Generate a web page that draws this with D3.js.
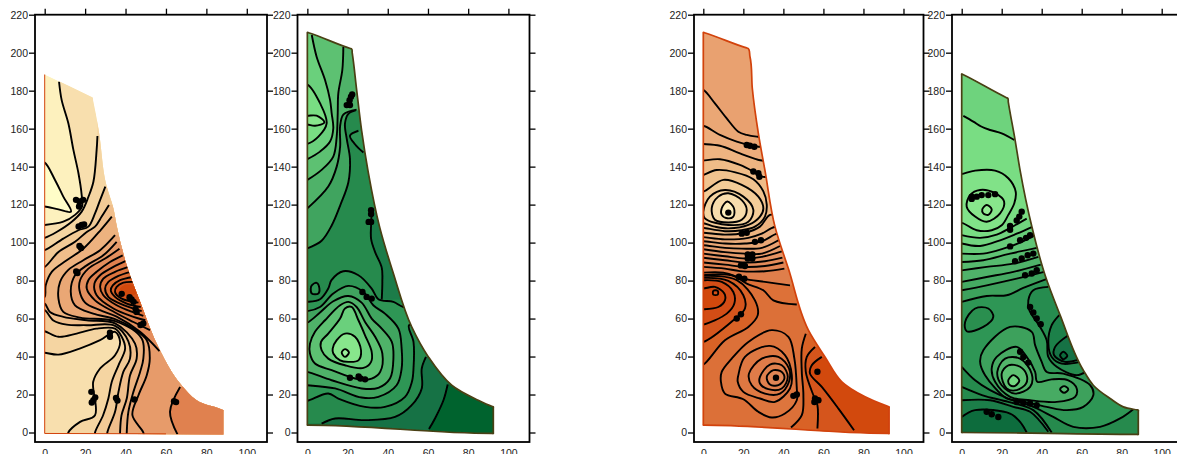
<!DOCTYPE html>
<html>
<head>
<meta charset="utf-8">
<script src="https://cdn.jsdelivr.net/npm/d3@7"></script>
<style>
  body { margin: 0; background: #fff; }
  svg { display: block; }
  .tick text { font-family: "Liberation Sans", Arial, sans-serif; font-size: 10.5px; fill: #222; }
  .tick line { stroke: #000; stroke-width: 1.3px; }
  .domain { display: none; }
</style>
</head>
<body>
<svg id="chart" width="1177" height="454">
  <defs><filter id="soft" x="-5%" y="-5%" width="110%" height="110%"><feGaussianBlur stdDeviation="0.35"/></filter></defs>
</svg>
<script>
var xTicks = [0, 20, 40, 60, 80, 100];
var yTicks = [0, 20, 40, 60, 80, 100, 120, 140, 160, 180, 200, 220];

var orangeLevels = [0, 1, 2, 4, 6, 8, 10, 13, 16];
var orangeColors = ['#FFFDC8', '#FDF1BE', '#F8DFAE', '#F2CA96', '#EDB27F', '#E79B6B', '#E0814F', '#DC6E35', '#D2490F'];
var greenLevels = [0, 1, 2, 3, 4, 5, 6, 7, 8, 9, 10];
var greenColors = ['#00642F', '#127244', '#258A4D', '#2F9655', '#3FA45E', '#4FB269', '#5DC172', '#6BD07C', '#79DD83', '#88E68C', '#9AEF99'];

// outlines of the four sections, in chart units (close pairs keep the corners sharp)
var p1Outline = [[0,188.5],[0.6,188.2],[23,176.8],[23.6,176.5],[24,174.5],[26.6,160],[30.7,129.5],[34,118],[35.6,109],[40.6,87.9],[47.2,68.8],[57,43.3],[67,25.8],[75.2,17],[88,12],[88.4,11.8],[88.4,11],[88.4,-0.5],[88.4,-1],[87.5,-1],[0.5,-0.5],[0,-0.5],[0,0.5],[0,188]];
var p2Outline = [[0,210.7],[0.6,210.5],[21.4,202.2],[22,202],[22.3,200],[24.5,180.6],[27,159],[30.3,137],[36,108],[42.8,83.7],[51.9,55.6],[60.2,39.8],[71.8,24.9],[85,17],[92,13.7],[92.5,13.5],[92.5,12.8],[92.5,0],[92.5,-0.5],[91.8,-0.5],[0.5,3.9],[0,3.9],[0,4.5],[0,210]];
var p3Outline = [[0,210.7],[0.6,210.5],[21.6,202.5],[22.2,202.3],[23.3,198],[24.5,181],[27.5,157.5],[30.8,138],[35.8,108.4],[42.5,86.3],[52.5,53.9],[60.8,39.8],[69.2,26.7],[80.8,18.8],[92.3,13.7],[92.8,13.5],[92.8,12.8],[92.8,0],[92.8,-0.5],[92,-0.5],[0.5,3.9],[0,3.9],[0,4.5],[0,210]];
var p4Outline = [[0,188.8],[0.6,188.5],[22.4,176.3],[23,176],[23.3,174],[26.7,154],[29.2,138],[35,108.7],[41.7,82.8],[49.2,61.8],[60.8,32.8],[65.8,24.9],[74.2,17.9],[80.8,13.5],[87.8,11.9],[88.3,11.8],[88.3,11],[88.3,-0.5],[88.3,-1],[87.5,-1],[0.5,0],[0,0],[0,0.5],[0,188]];

// only the left and bottom edge of the first section carry a line
var p1Edge = [[0,188.5],[0,-0.5],[60,-0.7]];

// each contour: [level, line points, closing points for the fill (none = closed ring)]
// they are painted in this order, the closing points run outside the section
var p1Contours = [
  [0, [[0,142.1],[5.1,133],[9.2,124.2],[13,116.3],[6.8,117.5],[0,119],[-2,119],[-2,142]]],
  [2, [[7.1,184.7],[8.4,175],[11.7,162.8],[14.2,148.8],[16.7,136.5],[18.3,125],[18.5,119],[15,114.6],[9.2,111],[0,109.3]], [[-5,109],[-5,-10],[100,-10],[100,200],[7,200]]],
  [3, [[26.1,156.1],[25.7,148.8],[24.1,132],[21.6,124],[18.3,116.3],[13.4,111],[5.9,105.6],[0,102.5],[-2,102],[-2,42],[0,42],[6.8,41],[17.3,44.2],[27.4,48.6],[34.8,53],[37.3,47.8],[34.8,40.7],[27.4,33.7],[24,26.7],[24.9,9.1],[17.5,5.6],[11.7,0],[11.7,-3]], [[11.7,-10],[100,-10],[100,170],[26,170]]],
  [4, [[30,129.5],[27.4,122.4],[24.9,115.4],[21.6,108.4],[16.7,106.5],[9.2,102.1],[0,96],[-2,96],[-2,53.3],[0,53.3],[6.8,50.4],[15.8,52.1],[25.7,54.7],[34.8,54.7],[38.1,50.4],[39.8,44.2],[36.5,35.4],[33.2,26.7],[31.5,17.9],[28.9,9.1],[24.9,0],[24.9,-3]], [[24.9,-10],[100,-10],[100,130]]],
  [5, [[31.8,119.8],[28.2,113.7],[24.9,108.4],[20.8,105.6],[15,100.4],[6.8,95],[0,87.2],[-2,87],[-2,64],[0,64.4],[4.3,59],[10.9,56.8],[20.8,56.5],[34.8,56.2],[41.4,48],[42.2,38.9],[38.9,31.9],[36.5,21.4],[34.8,10.9],[31,0],[31,-3]], [[31,-10],[100,-10],[100,120]]],
  [6, [[33.2,113.7],[28,107],[19.1,96.8],[10.9,90.7],[3.5,84.6],[0.5,77.5],[0,71.4],[-2,71],[-2,68],[0,67.9],[2.6,63.5],[9.2,60.9],[20.8,59.1],[34.8,57.5],[44.7,46.8],[45.5,38.9],[42.2,30],[40.6,17.9],[38,9],[37.3,0],[37.3,-3]], [[37.3,-10],[100,-10],[100,114]]],
  [7, [[34.8,103.9],[27.4,96],[19.1,90.7],[11.7,85.6],[7.6,79.3],[6.8,70.5],[9.2,63.5],[17.5,60.5],[34.8,58.6],[48,49.5],[48.8,38.9],[47.2,31.9],[43.9,21.4],[41.4,10.9],[40.6,0],[40.6,-3]], [[40.6,-10],[100,-10],[100,104]]],
  [8, [[35.6,100.4],[29,93.3],[20.8,88],[15,82.8],[12.9,74],[15,67],[24,62.6],[34.8,59.7],[43.9,54.7],[50.5,48.6],[52,38.9],[50.5,30.2],[46.4,19.6],[43.4,9.1],[48.8,0],[49,-3]], [[49,-10],[100,-10],[100,100]]],
  [9, [[37,96.8],[29.9,91.6],[21.6,86.3],[17.5,80.2],[17.2,74.9],[20,68.4],[27.4,64.4],[35.6,61],[47.2,53],[56.8,42.8]], [[100,42],[100,97]]],
  [10, [[67,24],[62,10.9],[65.7,-1]], [[100,-10],[100,24]]],
  [10, [[38.6,93.3],[32.3,89.8],[25.7,84.6],[21.6,80.2],[20.8,75.8],[24.9,69.6],[34.8,63.2],[43.9,58.2],[52.1,53.9]], [[100,54],[100,93]]],
  [11, [[39.9,90.2],[34,87.2],[27.4,82.8],[24.6,78.4],[25.7,72.3],[34,65.3],[43.9,60.9],[49.8,59.1]], [[100,59],[100,90]]],
  [12, [[41.4,87.2],[34.8,84.6],[29,81],[27.4,76.7],[29,72.3],[35.6,67],[43.9,63.2],[48.8,61.4]], [[100,61],[100,87]]],
  [13, [[42.6,84.6],[36.5,82.5],[31.5,79.3],[29.9,75.8],[31.5,71.4],[37.3,67.9],[48,63.9]], [[100,64],[100,85]]],
  [14, [[43.6,81.9],[37.3,80.2],[33.7,77.5],[32.7,74.9],[34.8,71.4],[40.6,67.9],[47.5,66.1]], [[100,66],[100,82]]],
  [15, [[43.9,79.3],[38.9,78.9],[35.6,76.7],[34.8,74],[38.1,70.5],[46.4,68.4]], [[100,68],[100,79]]]
];
var p1Core = [[37.3,75.8],[40.3,77.9],[43.6,77.5],[45.2,73.2],[40.6,71.9],[37.3,73.2]];
var p1Marks = [[17.2,121.6],[15.5,122.5],[19,122.5],[17,119],[18.3,109.3],[16.8,108.5],[19.5,109.5],[17.2,98.2],[18,97.2],[16.2,84],[15.6,84.8],[38.1,73],[43,70],[42,71.2],[44,68.8],[45.5,63.5],[45,65],[48.8,57.4],[47.4,56.6],[32.3,50.4],[32.3,52.5],[24.1,17],[25,18.5],[23.3,15.8],[23.1,21.4],[35.3,18.2],[36,16.8],[44.4,17.4],[64,16.5],[65,16]];

var p2Contours = [
  [1, [[69.8,25.3],[67.7,17],[63.5,7.4],[60.5,1.8]], [[60,-10],[-10,-10],[-10,230],[100,230],[100,26]]],
  [2, [[7.1,4.7],[13.8,7.4],[28.7,6.5],[43.6,8.2],[51.9,14.4],[56.9,23.2],[56.9,33.7],[59,39.8]], [[80,45],[100,230],[-10,230],[-10,4.5]]],
  [1.4, [[32,116],[31.7,109],[31.7,102],[33.7,95],[37,86.8],[37.3,79.3],[37,70]], [[100,70],[100,116]]],
  [4, [[24,169.6],[20.4,167.8],[18.7,162.6],[19.6,154.6],[21.2,144],[20.4,131.8],[16.3,119.5],[12.1,109],[7.1,101],[0,97]], [[-5,97],[-5,230],[100,230],[100,170]]],
  [3, [[25.4,158.9],[21.2,156.3],[23.7,151.8],[27.9,147.4]], [[40,147],[40,159]]],
  [5, [[24.5,170],[18,167.5],[16.3,161.5],[16.3,150.5],[14.6,140],[10.4,129.5],[0,118]], [[-5,118],[-5,230],[100,230],[100,170]]],
  [6, [[17.9,203],[17.4,190.9],[15.4,178.6],[15.1,168],[14.6,155.8],[12.9,145.3],[7.1,138.3],[0,133]], [[-5,133],[-5,230],[18,230]]],
  [7, [[2.2,209.3],[4.6,197.9],[8.8,185.6],[11.3,175],[12.1,168],[12.9,160.2],[11.3,153.2],[6.3,147.9],[0,143.9]], [[-5,144],[-5,230],[2,230]]],
  [8, [[0,183.2],[6.3,173.4],[9.6,162.8],[5.5,155.8],[0,152],[-2,152],[-2,183]]],
  [9, [[0,166.8],[4.6,166.8],[8.5,163.3],[3.8,161.5],[0,162.2],[-2,162],[-2,167]]],
  [3, [[2.2,77.5],[4.6,78.8],[6,75.8],[5.5,73.2],[2.2,73.2],[1.7,75.8]]],
  [3, [[0,68.8],[6.3,70.2],[10.4,75.8],[12,80.2],[17.9,84.9],[25.4,82.8],[32,75.8],[35.3,70.2],[42.8,68.8],[47.8,66.1],[60,66],[60,56],[50.6,56.5],[52.8,47.7],[52.8,33.7],[52,26.7],[48.6,18.8],[38.6,13.5],[28.7,13.5],[15.4,17.9],[10.4,20.5],[0,16.7],[-2,16.7],[-2,68.8]]],
  [4, [[0,63.9],[6.3,66.1],[12.9,73.2],[20.4,77.2],[27.9,74],[32.8,67],[38.6,62.6],[45.3,54.7],[46.9,44.2],[46.9,33.7],[44.4,24.9],[35.3,18.8],[27,18.4],[13.8,23.2],[0,24.9],[-2,25],[-2,64]]],
  [5, [[0,57.9],[6.3,63.2],[12.9,69.1],[20.4,71.9],[27,68.4],[32,60],[37,54.7],[42,47.7],[42.8,38.9],[41.1,28.4],[35.3,23.5],[27,23.2],[12.1,27.5],[0,31.9],[-2,32],[-2,58]]],
  [6, [[1.3,46.8],[3.8,53],[8.8,59.1],[16.3,67],[20.4,68.8],[24.5,66.1],[28.7,58.2],[33.7,50.4],[37.3,41.6],[36.2,31.9],[32,28.4],[25.4,28],[12.1,32.8],[3.8,36.3],[1.3,41.6]]],
  [7, [[6.8,47.7],[10.4,52.1],[16.3,60],[18.7,65.3],[22,66.1],[25.4,59.1],[28.7,51.2],[32,42.5],[31.7,37.2],[27.9,34],[18.7,35.4],[10.4,38.9],[7.1,43.3]]],
  [9, [[12.6,44.2],[14.6,48.6],[18.7,52.1],[23.7,50.4],[26.7,43.3],[25.4,38],[20.4,37.2],[16.3,38],[12.9,41.6]]],
  [10, [[17.1,42.1],[18.7,43.9],[20.7,42.1],[18.7,39.8]]]
];
var p2Marks = [[21.7,176.8],[22.3,178],[21,175],[19.6,172.4],[21.2,172.4],[31.7,117],[31.7,115],[31.7,110.9],[30.5,110.9],[27.4,74],[29.5,71.4],[32,70.5],[21.2,28.8],[26.4,28.4],[28.7,28],[25.5,29.5]];

var p3Contours = [
  [12.5, [[0,82.8],[14.2,82.8],[21.7,78.4],[30,74.9],[35,69.6],[46.7,67.4]], [[70,67],[70,230],[-5,230],[-5,83]]],
  [10.5, [[0,84.2],[10,84.2],[20,81],[30.8,79.3],[43.3,77.5]], [[70,77],[70,230],[-5,230],[-5,84]]],
  [9.8, [[0,87.2],[10.8,86.3],[18.3,85],[30.8,84.9],[40.5,86.3]], [[70,86],[70,230],[-5,230],[-5,87]]],
  [9.2, [[0,89.5],[10.8,88.4],[20.8,87.2],[30.8,87.7],[40,89.5]], [[70,89],[70,230],[-5,230],[-5,90]]],
  [8.6, [[0,92],[10.8,90.7],[20.8,89.5],[30.8,90.2],[39.5,92.1]], [[70,92],[70,230],[-5,230],[-5,92]]],
  [8, [[0,94.2],[10.8,92.8],[20.8,91.6],[29.2,92.5],[39.2,95.4]], [[70,95],[70,230],[-5,230],[-5,94]]],
  [7.5, [[0,96.5],[10.8,95],[20.8,94.2],[29.2,94.2],[38.3,98.2]], [[70,98],[70,230],[-5,230],[-5,96]]],
  [7, [[0,180.4],[5.8,173.3],[11.7,165.4],[17.5,158.4],[21.7,156.7],[26.7,155.8],[40,155],[40,103],[37.5,101.2],[29.2,97.2],[19.2,96.8],[10.8,97.2],[0,98.6],[-2,98.6],[-2,180.4]]],
  [6.4, [[0,161.5],[8.3,156.7],[16.7,153.2],[27.5,150.5],[40,150],[40,105],[36.7,104.7],[29.2,100.7],[20.8,99.5],[10.8,99.5],[0,100.7],[-2,100.7],[-2,161]]],
  [5.8, [[0,151.9],[8.3,151],[18.3,147],[29.2,143.2],[40,143],[40,108],[35.5,108.2],[29.2,104.7],[22.5,102.5],[10.8,101.7],[0,102.9],[-2,103],[-2,152]]],
  [5.2, [[0,143.2],[8.3,143.9],[18.3,140.9],[25,137.4],[29.2,134.7],[40,134],[40,114],[33.3,114.6],[28.3,108.4],[20.8,105.2],[10.8,104.2],[0,105.2],[-2,105],[-2,143]]],
  [4.6, [[0,135.6],[6.7,138.2],[16,137],[25,133.4],[30,127],[31.7,120],[30.8,113.7],[25.8,108.4],[19.2,106.5],[10.8,106],[0,107.8],[-2,108],[-2,135]]],
  [3.8, [[0,126.8],[10,133],[19.2,130.4],[27.5,124.2],[30,118],[28.3,113.7],[22.5,109.3],[12.5,107.5],[5.8,108.4],[0,110.2],[-2,110],[-2,127]]],
  [3, [[0,116.3],[3.3,124.2],[10.8,127.7],[20,124.2],[25,117.2],[22.5,111],[12.5,109.3],[0.8,112.8]]],
  [2.2, [[4.2,118.1],[7.5,124.2],[12.5,126],[19.2,122.4],[21.7,117.2],[19.2,112],[12.5,110.6],[5.8,112]]],
  [1.2, [[9.2,118.1],[12,121.6],[15.3,118.1],[15,113.7],[12,112.8],[9.2,114.6]]],
  [14, [[0,35.8],[10.8,48.6],[22.5,55.6],[27.2,61.8],[25.8,69.6],[16.7,80.2],[0,82.5],[-2,82],[-2,36]]],
  [15, [[0,81.4],[12.5,79.8],[20,72.3],[20.8,65.3],[15,59.1],[0,47.7],[-2,48],[-2,81]]],
  [15.6, [[0,80.2],[9.2,79.3],[15,74],[15.5,67.9],[11.7,62.6],[0,56.8],[-2,57],[-2,80]]],
  [16, [[0,75.8],[5.8,76.7],[10.5,73.2],[10.8,69.6],[7.5,66.1],[0,64.9],[-2,65],[-2,76]]],
  [15.5, [[5,74.6],[7.2,74.6],[7.2,72.6],[5,72.6]]],
  [12, [[9.2,31.9],[14.2,38.9],[22.5,47.7],[34.2,53.9],[42.5,50.4],[45.5,38.9],[46.7,23.2],[46.7,17],[40.8,10],[34.2,7.9],[27.5,10.9],[20,17.5],[10.8,20.5],[8.8,26.7]]],
  [11.4, [[17.5,30.2],[20.8,39.8],[33.3,45.6],[40.8,40.7],[44.2,30.2],[43.3,23.2],[35.8,16.1],[28.3,17.9],[20,21.4],[17.2,26.7]]],
  [10.8, [[22.8,31],[29.2,38.9],[37.5,39.8],[42.8,33.7],[42.8,26.7],[38.3,20.5],[30.8,20.5],[24.2,24.9]]],
  [10.2, [[28.3,29.3],[33.3,35.8],[39.2,35.4],[42.2,29.3],[39.2,23.2],[32.5,22.8],[28.3,25.8]]],
  [9.6, [[31.7,29.3],[35,32.8],[39.2,31.9],[40.5,28.4],[37.5,24.9],[33.3,25.3]]],
  [14, [[51.2,52],[49.2,44.2],[49.2,31.9],[50,19.6],[49.2,9.1],[43.8,2.6]], [[43,-10],[100,-10],[100,52]]],
  [15, [[55.8,45],[51.7,39.8],[51.2,31.9],[55,19.6],[57,14.4],[57,2.1]], [[57,-10],[100,-10],[100,45]]],
  [16, [[59.2,39.8],[54.2,35.4],[53.3,31],[59.2,24],[67.5,12.6],[75.3,1.2]], [[75,-10],[100,-10],[100,40]]]
];
var p3Marks = [[21.7,151.4],[23.3,151],[25.5,150.5],[25,137.4],[27.5,136.5],[28,134.7],[12.5,115.8],[19.2,104.7],[21.7,105.2],[25.8,100.4],[28.8,101.2],[22.2,93.7],[24.5,93.7],[24.5,91.6],[22.2,91.6],[20.8,87.7],[18.8,88],[20.5,81],[17.8,82],[18.8,62.3],[16.7,60],[46.7,20],[45,19.3],[55.8,17.9],[57.5,17],[55.5,16.1],[57,32],[36.3,28.8]];

var p4Contours = [
  [3, [[0,34.6],[6.7,27.5],[14.2,22.3],[23.3,17.9],[35.8,13.5],[45.8,8.2],[55.8,3],[69.2,3],[79.2,7.4],[85.8,12.3]], [[95,12],[95,230],[-5,230],[-5,35]]],
  [2, [[0,24],[10.5,19.6],[23.3,16.1],[35.8,11.8],[45,0]], [[45,-10],[-5,-10],[-5,24]]],
  [1.5, [[0,17],[14.2,17],[25.8,13.5],[34.2,10.9],[43.3,0.4]], [[43,-10],[-5,-10],[-5,17]]],
  [0.6, [[0,8.2],[6.7,11.8],[24.2,10],[29.2,5.6],[32.5,0]], [[32.5,-10],[-5,-10],[-5,8]]],
  [3.8, [[0,68.8],[12.5,71.9],[22.5,72.3],[30.8,76.1],[43,81]], [[70,81],[70,230],[-5,230],[-5,69]]],
  [4.4, [[0,74.9],[12.5,77.5],[27.5,81],[41.2,84.6]], [[70,85],[70,230],[-5,230],[-5,75]]],
  [5, [[0,79.3],[12.5,81.9],[25.8,84.6],[39.5,88.4]], [[70,88],[70,230],[-5,230],[-5,79]]],
  [5.6, [[0,85.4],[12.5,87.2],[25.8,88.9],[38.3,92.5]], [[70,92],[70,230],[-5,230],[-5,85]]],
  [6.2, [[0,89.8],[10.8,90.7],[24.2,94.2],[37.5,97.2]], [[70,97],[70,230],[-5,230],[-5,90]]],
  [6.8, [[0,94.2],[10.8,94.2],[20.8,96.8],[29.2,100],[36.7,103.9]], [[70,104],[70,230],[-5,230],[-5,94]]],
  [7.4, [[0,99.5],[9.2,98.2],[19.2,101.2],[27.5,104.7],[35,108.2]], [[70,108],[70,230],[-5,230],[-5,99]]],
  [8, [[0,103.9],[9.2,102.5],[17.5,104.2],[24.2,107.7],[32.5,112.6]], [[70,113],[70,230],[-5,230],[-5,104]]],
  [7.2, [[0.8,166.7],[5.8,163.7],[10,161],[14.2,159.3],[20,157.5],[26.3,154]], [[60,154],[60,230],[-5,230],[-5,167]]],
  [8.5, [[0,136.1],[6.7,137.9],[16.7,137.9],[23.3,133.9],[27,126.8],[26.3,120.7],[23.3,114.6],[20,109.1],[15,106.5],[7.5,106.5],[0,110.4],[-2,110],[-2,136]]],
  [9, [[2.5,118.9],[6.7,113.7],[12.5,111],[19.2,115.4],[21.2,121.6],[16.7,126],[9.2,127.7],[4.2,125]]],
  [9.7, [[10.3,117.5],[12.5,119.8],[15,117.5],[13.3,114.6],[10.8,115.4]]],
  [2.4, [[1.7,58.2],[6.7,65.3],[13.3,65.3],[15.8,60.9],[10.8,55.6],[2.5,53.3]]],
  [2.2, [[43.3,76.7],[35.8,74.9],[33.3,69.6],[33.8,64.4],[39.2,55.6],[42.5,48.6],[43.3,39.8],[47.5,34.6],[57.5,30.2],[62,31.9]], [[100,32],[100,77]]],
  [1.6, [[48.8,61.8],[45,56.5],[43.3,47.7],[45,39.8],[50,36.3],[59.2,37.2]], [[70,37],[70,62]]],
  [1, [[53.3,51.2],[46.7,45.1],[46.2,40.7],[51.7,37.2],[59.2,38.6]], [[70,38.6],[70,51]]],
  [0.5, [[49.2,40.7],[50.8,42.5],[52.8,40.4],[50.8,38.6]]],
  [3.8, [[9.2,37.2],[10.8,43.3],[24.2,55.6],[35,53],[36.7,46],[40,37.2],[42.5,31.9],[50.8,31],[64.2,24.9],[65.8,19.6],[60.8,13.5],[52.5,11.8],[42.5,13.5],[27.5,17],[22.5,17.9],[11.7,30.2]]],
  [4.5, [[15,33.7],[17.5,39.8],[27.5,45.1],[32.5,39.8],[36.7,31.9],[37.8,26.7],[45,28],[53.3,27.5],[57.5,23.2],[56.7,18.8],[47.5,16.1],[34.2,17],[24.2,18.8],[16.7,26.7]]],
  [5.5, [[49.2,22.8],[51.2,24.4],[53.3,22.8],[51.2,20.9]]],
  [5.2, [[17.8,31.9],[21.7,38.9],[29.2,38.9],[35,31],[34.2,24],[26.7,20.5],[20,24.9]]],
  [6, [[20,31],[23.3,35.4],[29.2,34.6],[32.5,30.2],[32.2,25.8],[27.5,22.3],[22.5,23.2]]],
  [7.5, [[23.3,27.5],[25.8,30.2],[28.8,27.5],[26.7,24.6],[24.2,24.9]]]
];
var p4Marks = [[5,124.2],[7.5,124.2],[10,125],[13.3,125],[16.7,125.5],[5,123],[30,116.3],[28.8,113.7],[27.5,111.6],[24.2,108.8],[24.2,106.7],[24.2,98],[29.2,101.2],[32.2,102.5],[34.2,103.9],[26.7,90.2],[30,91.6],[33,93.3],[35.8,94.2],[31.7,82.8],[35,83.7],[37.5,85.4],[34.2,66.1],[35.8,63.2],[37.5,60],[39.5,57],[29.2,42.5],[30.8,39.8],[33.3,36.8],[27.5,16.1],[30.8,15.6],[34.2,15.3],[37.5,14.4],[12.5,10.9],[15,9.6],[18.3,8.2]];

// pixel layout of the four frames
var panels = [
  { x0: -4.8, x1: 110, left: 35, right: 267, outline: p1Outline, edge: p1Edge, edgeColor: '#D2420A', contours: p1Contours, core: p1Core, marks: p1Marks, base: 1, levels: orangeLevels, colors: orangeColors },
  { x0: -4.9, x1: 110.5, left: 297.5, right: 529.5, outline: p2Outline, edgeColor: '#4A3F12', contours: p2Contours, marks: p2Marks, base: 0, levels: greenLevels, colors: greenColors },
  { x0: -4.65, x1: 110, left: 694, right: 923.5, outline: p3Outline, edgeColor: '#D2420A', contours: p3Contours, marks: p3Marks, base: 12.8, levels: orangeLevels, colors: orangeColors },
  { x0: -4.85, x1: 110, left: 952, right: 1181.7, outline: p4Outline, edgeColor: '#4A3F12', contours: p4Contours, marks: p4Marks, base: 2, levels: greenLevels, colors: greenColors }
];

var svg = d3.select('#chart');
var y = d3.scaleLinear().domain([-5, 220]).range([442, 14.7]);

function drawPanel(panel, i) {
  var x = d3.scaleLinear().domain([panel.x0, panel.x1]).range([panel.left, panel.right]);
  var color = d3.scaleLinear().domain(panel.levels).range(panel.colors);
  var project = function(d) { return [x(d[0]), y(d[1])]; };

  var straight = d3.line().x(function(d) { return x(d[0]); }).y(function(d) { return y(d[1]); });
  var open = d3.line().x(function(d) { return x(d[0]); }).y(function(d) { return y(d[1]); }).curve(d3.curveCatmullRom.alpha(0.5));
  var closed = d3.line().x(function(d) { return x(d[0]); }).y(function(d) { return y(d[1]); }).curve(d3.curveCatmullRomClosed.alpha(0.5));
  var border = d3.line().x(function(d) { return x(d[0]); }).y(function(d) { return y(d[1]); }).curve(d3.curveCatmullRomClosed.alpha(1));

  var g = svg.append('g');
  g.append('clipPath').attr('id', 'section' + i)
    .append('path').attr('d', border(panel.outline));

  var soft = g.append('g').attr('filter', 'url(#soft)');
  var inside = soft.append('g').attr('clip-path', 'url(#section' + i + ')');

  inside.append('path')
    .attr('d', border(panel.outline))
    .attr('fill', color(panel.base));

  function fillPath(c) {
    if (!c[2]) return closed(c[1]);
    var tail = c[2].map(project).map(function(p) { return 'L' + p[0] + ',' + p[1]; }).join('');
    return open(c[1]) + tail + 'Z';
  }

  inside.selectAll('path.band').data(panel.contours).enter().append('path')
    .attr('class', 'band')
    .attr('d', fillPath)
    .attr('fill', function(c) { return color(c[0]); });

  if (panel.core) {
    inside.append('path').attr('d', closed(panel.core)).attr('fill', color(16));
  }

  inside.selectAll('path.contour').data(panel.contours).enter().append('path')
    .attr('class', 'contour')
    .attr('d', function(c) { return c[2] ? open(c[1]) : closed(c[1]); })
    .attr('fill', 'none')
    .attr('stroke', '#000')
    .attr('stroke-width', 1.9);

  soft.append('path')
    .attr('d', panel.edge ? straight(panel.edge) : border(panel.outline))
    .attr('fill', 'none')
    .attr('stroke', panel.edgeColor)
    .attr('stroke-width', i === 0 ? 1 : 1.7);

  soft.selectAll('circle').data(panel.marks).enter().append('circle')
    .attr('cx', function(d) { return x(d[0]); })
    .attr('cy', function(d) { return y(d[1]); })
    .attr('r', 3.2)
    .attr('fill', '#000');

  // frame and axes
  g.append('rect')
    .attr('x', panel.left).attr('y', 14.7)
    .attr('width', panel.right - panel.left).attr('height', 442 - 14.7)
    .attr('fill', 'none').attr('stroke', '#000').attr('stroke-width', 1.8);

  g.append('g').attr('transform', 'translate(' + panel.left + ',0)')
    .call(d3.axisLeft(y).tickValues(yTicks).tickSize(6).tickPadding(1));
  g.append('g').attr('transform', 'translate(' + panel.right + ',0)')
    .call(d3.axisRight(y).tickValues(yTicks).tickSize(6).tickFormat(''));
  g.append('g').attr('transform', 'translate(0,14.7)')
    .call(d3.axisTop(x).tickValues(xTicks).tickSize(6).tickFormat(''));
  g.append('g').attr('transform', 'translate(0,442)')
    .call(d3.axisBottom(x).tickValues(xTicks).tickSize(0).tickPadding(8));
}

panels.forEach(drawPanel);
</script>
</body>
</html>
